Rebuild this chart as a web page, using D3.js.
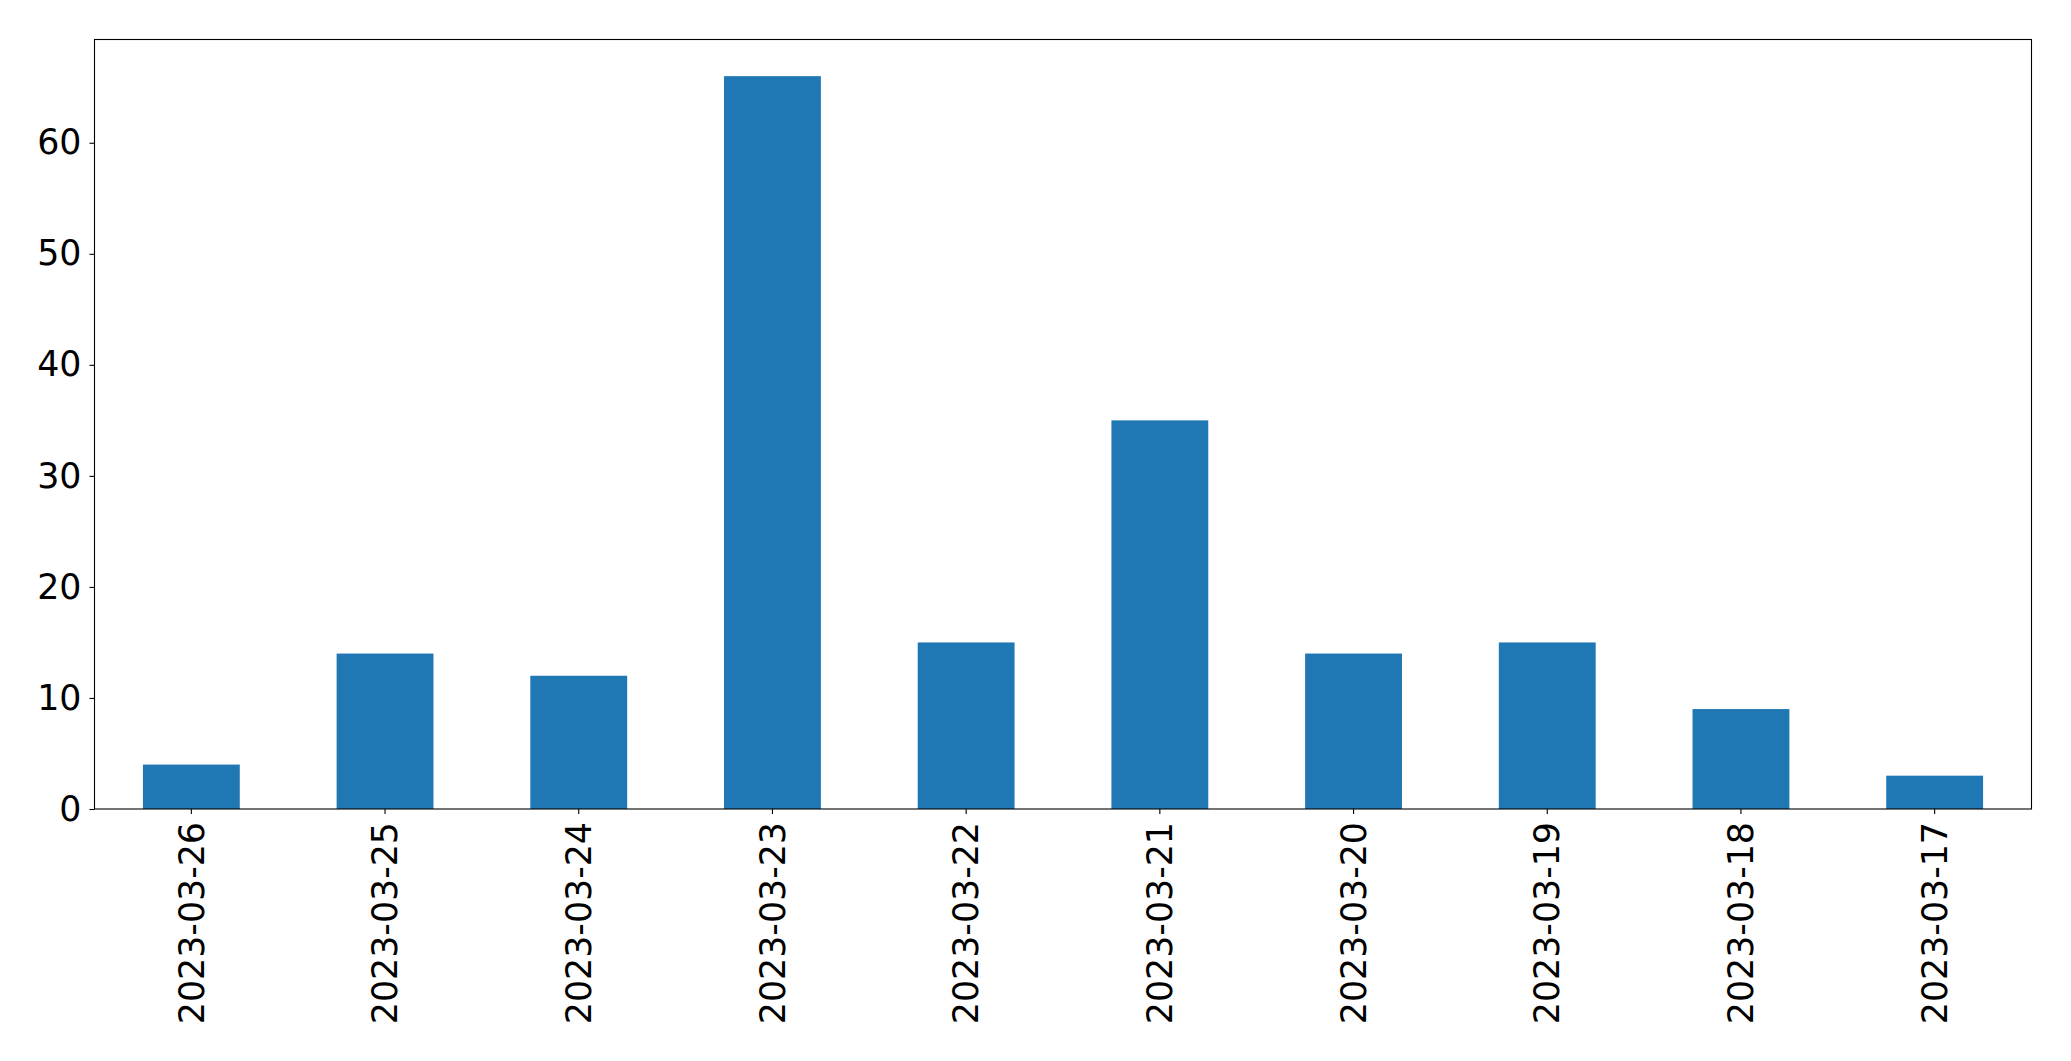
<!DOCTYPE html>
<html>
<head>
<meta charset="utf-8">
<script src="https://cdn.jsdelivr.net/npm/d3@7"></script>
<style>
  html, body { margin: 0; padding: 0; background: #fff; }
  svg { display: block; }
</style>
</head>
<body>
<svg id="chart" width="2071" height="1061"></svg>
<script>
const categories = ["2023-03-26","2023-03-25","2023-03-24","2023-03-23","2023-03-22","2023-03-21","2023-03-20","2023-03-19","2023-03-18","2023-03-17"];
const values = [4, 14, 12, 66, 15, 35, 14, 15, 9, 3];
const yTicks = [0, 10, 20, 30, 40, 50, 60];

const W = 2071, H = 1061;
const margin = { left: 94.5, right: 2071 - 2031.5, top: 39.5, bottom: 1061 - 809 };
const svg = d3.select("#chart");
const fontFamily = "'DejaVu Sans', sans-serif";
const fontSize = 34.8;

const x = d3.scaleBand().domain(categories)
  .range([margin.left, W - margin.right]).paddingInner(0.5).paddingOuter(0.25);
const yMax = d3.max(values) * 1.05;
const y = d3.scaleLinear().domain([0, yMax]).range([H - margin.bottom, margin.top]);

svg.append("g").selectAll("rect").data(values).join("rect")
  .attr("x", (d, i) => x(categories[i]))
  .attr("width", x.bandwidth())
  .attr("y", d => y(d))
  .attr("height", d => y(0) - y(d))
  .attr("fill", "#1f77b4");

const xAxis = svg.append("g")
  .attr("transform", `translate(0,${H - margin.bottom})`)
  .call(d3.axisBottom(x).tickSize(5).tickPadding(10).tickSizeOuter(0));
xAxis.select(".domain").remove();
xAxis.selectAll(".tick line").attr("stroke", "#000").attr("stroke-width", 1.1);
xAxis.selectAll(".tick text")
  .attr("font-family", fontFamily).attr("font-size", fontSize).attr("fill", "#000")
  .attr("transform", "rotate(-90)")
  .attr("text-anchor", "end")
  .attr("x", -13).attr("y", 0).attr("dy", "0.35em");

const yAxis = svg.append("g")
  .attr("transform", `translate(${margin.left},0)`)
  .call(d3.axisLeft(y).tickValues(yTicks).tickSize(5).tickPadding(8).tickSizeOuter(0));
yAxis.select(".domain").remove();
yAxis.selectAll(".tick line").attr("stroke", "#000").attr("stroke-width", 1.1);
yAxis.selectAll(".tick text")
  .attr("font-family", fontFamily).attr("font-size", fontSize).attr("fill", "#000");

svg.append("rect")
  .attr("x", margin.left).attr("y", margin.top)
  .attr("width", W - margin.right - margin.left)
  .attr("height", H - margin.bottom - margin.top)
  .attr("fill", "none").attr("stroke", "#000").attr("stroke-width", 1.1);
</script>
</body>
</html>
